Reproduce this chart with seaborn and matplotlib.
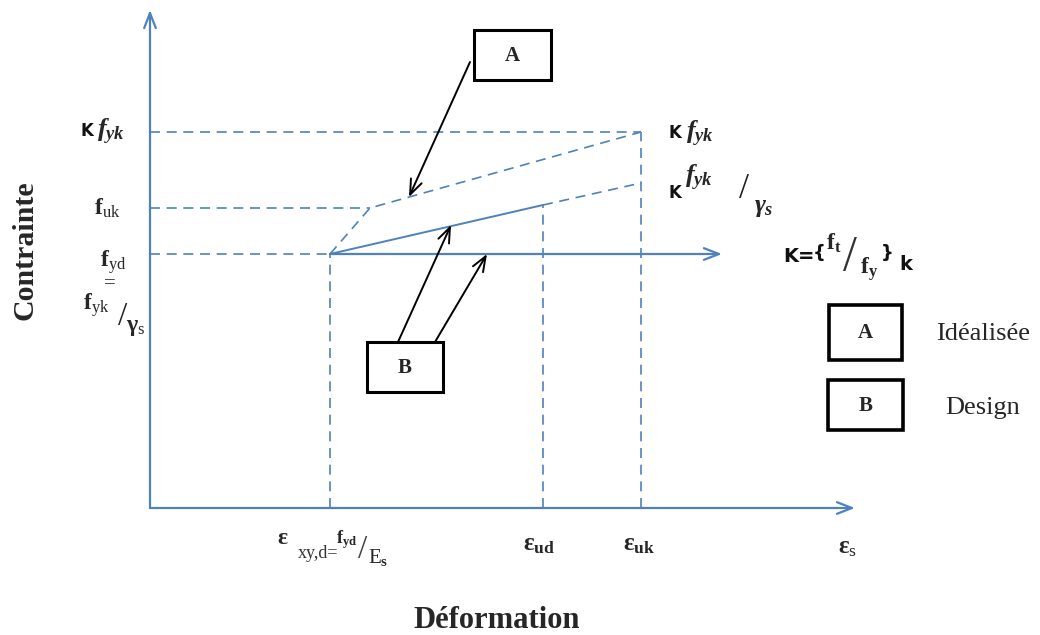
import matplotlib
matplotlib.use("Agg")
import matplotlib.pyplot as plt
from matplotlib.patches import Rectangle
import pandas as pd
import seaborn as sns

sns.set_theme(style="white")
plt.rcParams["font.family"] = ["Liberation Serif", "DejaVu Serif"]
plt.rcParams["mathtext.fontset"] = "custom"
plt.rcParams["mathtext.rm"] = "Liberation Serif"
plt.rcParams["mathtext.it"] = "Liberation Serif:italic:bold"
plt.rcParams["mathtext.bf"] = "Liberation Serif:bold"
plt.rcParams["mathtext.fallback"] = "stix"

BLUE = "#4F81BD"

# Strain levels along the horizontal axis
strain_names = ["eps_yd", "eps_ud", "eps_uk"]
strain_levels = [180, 393, 491]

# Stress levels along the vertical axis
stress_names = ["f_yd", "f_uk", "K_fyk"]
stress_levels = [254, 300, 376]

# Idealised law (A): yield point -> hardening start -> ultimate point
ideal_strain = [180, 220, 491]
ideal_stress = [254, 300, 376]

# Design law (B): inclined branch, solid up to eps_ud then dashed to eps_uk
design_strain = [180, 393, 491]
design_stress = [254, 303, 325]

eps_yd, eps_ud, eps_uk = strain_levels
f_yd, f_uk, k_fyk = stress_levels

fig = plt.figure(figsize=(10.4, 6.35), dpi=100)
ax = fig.add_axes([0, 0, 1, 1])

head = "->,head_length=0.9,head_width=0.35"

# Coordinate axes with open arrow heads
ax.annotate("", xy=(0, 498), xytext=(0, 0),
            arrowprops=dict(arrowstyle=head, color=BLUE, lw=1.6, shrinkA=0, shrinkB=0))
ax.annotate("", xy=(705, 0), xytext=(0, 0),
            arrowprops=dict(arrowstyle=head, color=BLUE, lw=1.6, shrinkA=0, shrinkB=0))

# Horizontal plateau arrow at f_yd
ax.annotate("", xy=(572, f_yd), xytext=(eps_yd, f_yd),
            arrowprops=dict(arrowstyle=head, color=BLUE, lw=1.6, shrinkA=0, shrinkB=0))

dash = dict(color=BLUE, lw=1.2, linestyle=(0, (6, 4)))

# Horizontal reference lines
ax.plot([0, eps_uk], [k_fyk, k_fyk], **dash)
ax.plot([0, ideal_strain[1]], [f_uk, f_uk], **dash)
ax.plot([0, eps_yd], [f_yd, f_yd], **dash)

# Vertical reference lines
ax.plot([eps_yd, eps_yd], [0, f_yd], **dash)
ax.plot([eps_ud, eps_ud], [0, design_stress[1]], **dash)
ax.plot([eps_uk, eps_uk], [0, k_fyk], **dash)

# Stress-strain laws
ideal_df = pd.DataFrame({"strain": ideal_strain, "stress": ideal_stress})
sns.lineplot(data=ideal_df, x="strain", y="stress", ax=ax, sort=False,
             color=BLUE, lw=1.2, linestyle=(0, (6, 4)))
design_solid = pd.DataFrame({"strain": design_strain[:2], "stress": design_stress[:2]})
design_dash = pd.DataFrame({"strain": design_strain[1:], "stress": design_stress[1:]})
sns.lineplot(data=design_solid, x="strain", y="stress", ax=ax, color=BLUE, lw=1.4)
sns.lineplot(data=design_dash, x="strain", y="stress", ax=ax, color=BLUE, lw=1.2,
             linestyle=(0, (6, 4)))
ax.set_xlim(-150, 890)
ax.set_ylim(-127, 508)
ax.axis("off")


def box(x0, y0, w, h, letter, lw=2.2):
    ax.add_patch(Rectangle((x0, y0), w, h, fill=False, ec="black", lw=lw))
    ax.text(x0 + w / 2, y0 + h / 2 - 1, letter, ha="center", va="center",
            fontsize=15, fontweight="bold")


# Callout boxes and pointer arrows
box(324, 428, 77, 50, "A")
box(217, 116, 76, 50, "B")
arrow = dict(arrowstyle=head, color="black", lw=1.4, shrinkA=0, shrinkB=0)
ax.annotate("", xy=(259, 311), xytext=(320, 446), arrowprops=arrow)
ax.annotate("", xy=(301, 283), xytext=(248, 166), arrowprops=arrow)
ax.annotate("", xy=(337, 254), xytext=(285, 166), arrowprops=arrow)

# Legend
box(679, 148, 73, 55, "A", lw=2.6)
box(678, 78, 75, 50, "B", lw=2.6)
ax.text(833, 174, "Idéalisée", ha="center", va="center", fontsize=19)
ax.text(833, 100, "Design", ha="center", va="center", fontsize=19)

sans_b = dict(family=["DejaVu Sans"], fontweight="bold", color="#111111")

# Vertical axis labels
ax.text(-70, k_fyk + 1, "K", ha="left", va="center", fontsize=12, **sans_b)
ax.text(-53, k_fyk, r"$f_{yk}$", ha="left", va="center", fontsize=19)
ax.text(-43, f_uk, r"$\mathbf{f}_{\mathrm{uk}}$", ha="center", va="center", fontsize=17)
ax.text(-37, 246, r"$\mathbf{f}_{\mathrm{yd}}$", ha="center", va="center", fontsize=17)
ax.text(-40, 224, "=", ha="center", va="center", fontsize=15)
ax.text(-54, 203, r"$\mathbf{f}_{\mathrm{yk}}$", ha="center", va="center", fontsize=17)
ax.text(-27, 191, "/", ha="center", va="center", fontsize=24, color="#222222")
ax.text(-14, 180, r"$\mathbf{\gamma}_{\mathrm{s}}$", ha="center", va="center", fontsize=17)

# Right-hand labels
ax.text(519, k_fyk - 1, "K", ha="left", va="center", fontsize=12, **sans_b)
ax.text(536, k_fyk - 2, r"$f_{yk}$", ha="left", va="center", fontsize=19)
ax.text(519, 315, "K", ha="left", va="center", fontsize=12, **sans_b)
ax.text(535, 330, r"$f_{yk}$", ha="left", va="center", fontsize=19)
ax.text(594, 318, "/", ha="center", va="center", fontsize=26, color="#222222")
ax.text(604, 300, r"$\gamma_{s}$", ha="left", va="center", fontsize=19)

ax.text(633, 251, "K=", ha="left", va="center", fontsize=14, **sans_b)
ax.text(663, 255, "{", ha="left", va="center", fontsize=13, **sans_b)
ax.text(684, 265, r"$\mathbf{f}_{\mathbf{t}}$", ha="center", va="center", fontsize=17)
ax.text(700, 250, "/", ha="center", va="center", fontsize=36, color="#333333")
ax.text(719, 239, r"$\mathbf{f}_{\mathbf{y}}$", ha="center", va="center", fontsize=17)
ax.text(731, 255, "}", ha="left", va="center", fontsize=13, **sans_b)
ax.text(749, 244, "k", ha="left", va="center", fontsize=14, **sans_b)

# Horizontal axis labels
ax.text(133, -30, r"$\mathbf{\varepsilon}$", ha="center", va="center", fontsize=17)
ax.text(168, -45, "xy,d=", ha="center", va="center", fontsize=13, color="#333333")
ax.text(197, -32, r"$\mathbf{f}_{\mathbf{yd}}$", ha="center", va="center", fontsize=13)
ax.text(213, -42, "/", ha="center", va="center", fontsize=24, color="#444444")
ax.text(228, -50, r"$\mathrm{E}_{\mathbf{s}}$", ha="center", va="center", fontsize=15)
ax.text(eps_ud - 4, -37, r"$\mathbf{\varepsilon}_{\mathbf{ud}}$", ha="center", va="center", fontsize=18)
ax.text(eps_uk - 2, -37, r"$\mathbf{\varepsilon}_{\mathbf{uk}}$", ha="center", va="center", fontsize=18)
ax.text(698, -40, r"$\mathbf{\varepsilon}_{\mathrm{s}}$", ha="center", va="center", fontsize=18)

# Axis titles
ax.text(-125, 258, "Contrainte", rotation=90, ha="center", va="center",
        fontsize=21.5, fontweight="bold")
ax.text(347, -113, "Déformation", ha="center", va="center", fontsize=22, fontweight="bold")

fig.savefig("out.png", dpi=100)
